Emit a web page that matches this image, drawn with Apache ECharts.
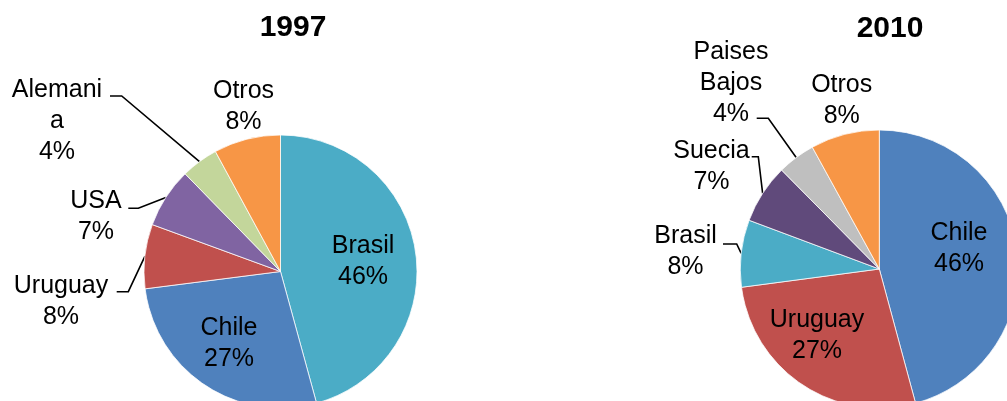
<!DOCTYPE html>
<html>
<head>
<meta charset="utf-8">
<script src="https://cdn.jsdelivr.net/npm/echarts@6/dist/echarts.min.js"></script>
<style>
html,body{margin:0;padding:0;background:#fff;}
#chart{width:1007px;height:401px;}
</style>
</head>
<body>
<div id="chart"></div>
<script>
// ---- data ----
const titles = ['1997', '2010'];
const cats1997 = ['Brasil', 'Chile', 'Uruguay', 'USA', 'Alemania', 'Otros'];
const vals1997 = [45.7, 27.2, 7.6, 7.1, 4.4, 7.9];
const text1997 = ['Brasil', 'Chile', 'Uruguay', 'USA', 'Alemani\na', 'Otros'];
const cats2010 = ['Chile', 'Uruguay', 'Brasil', 'Suecia', 'Paises Bajos', 'Otros'];
const vals2010 = [45.8, 27.1, 7.8, 6.9, 4.4, 8.0];
const text2010 = ['Chile', 'Uruguay', 'Brasil', 'Suecia', 'Paises\nBajos', 'Otros'];

// ---- styles / layout ----
const colorOf = {
  'Brasil': '#4BACC6', 'Chile': '#4F81BD', 'Uruguay': '#C0504D', 'USA': '#8064A2',
  'Alemania': '#C3D69B', 'Otros': '#F79646', 'Suecia': '#604A7B', 'Paises Bajos': '#BFBFBF'
};
const FONT = '"Liberation Sans", Arial, sans-serif';
const labelPos = [
  [[363, 262], [229, 344], [61, 302], [96, 216.5], [57, 121], [243.5, 107]],
  [[959, 248.5], [817, 336], [685.5, 251.5], [711.5, 167], [731, 83], [841.7, 100.5]]
];
const guide = [
  [null, null, [[128.3, 291.7], [116.7, 291.7]], [[138.3, 208.3], [128.3, 208.3]], [[121.7, 96], [110, 96]], null],
  [null, null, [[736.7, 244], [723, 244]], [[758.3, 156.7], [751.7, 156.7]], [[768.3, 118.3], [756.7, 118.3]], null]
];
const insideCount = 2;

function buildData(cats, vals) {
  return cats.map((c, i) => ({
    name: c,
    value: vals[i],
    itemStyle: { color: colorOf[c] },
    label: { position: i < insideCount ? 'inside' : 'outside' },
    labelLine: { show: false }
  }));
}

function makeSeries(idx, cats, vals, texts, center, radius) {
  return {
    type: 'pie',
    center: center,
    radius: radius,
    startAngle: 90,
    clockwise: true,
    avoidLabelOverlap: false,
    silent: true,
    animation: false,
    itemStyle: { borderColor: '#ffffff', borderWidth: 0.75 },
    label: {
      show: true,
      color: '#000',
      fontFamily: FONT,
      fontSize: 25,
      lineHeight: 31,
      align: 'center',
      formatter: p => texts[p.dataIndex] + '\n' + Math.round(p.percent) + '%'
    },
    labelLine: { show: false },
    labelLayout: function (params) {
      const pos = labelPos[idx][params.dataIndex];
      return { x: pos[0], y: pos[1], align: 'center', verticalAlign: 'middle' };
    },
    data: buildData(cats, vals)
  };
}

const chart = echarts.init(document.getElementById('chart'), null, { renderer: 'canvas' });

const series = [
  makeSeries(0, cats1997, vals1997, text1997, [280.5, 271.5], 136.5),
  makeSeries(1, cats2010, vals2010, text2010, [879.3, 269], 139)
];

chart.setOption({
  backgroundColor: '#ffffff',
  animation: false,
  title: [
    { text: titles[0], left: 293, top: 28, padding: 0, textAlign: 'center', textVerticalAlign: 'middle',
      textStyle: { fontFamily: FONT, fontSize: 30, fontWeight: 'bold', color: '#000' } },
    { text: titles[1], left: 890, top: 29, padding: 0, textAlign: 'center', textVerticalAlign: 'middle',
      textStyle: { fontFamily: FONT, fontSize: 30, fontWeight: 'bold', color: '#000' } }
  ],
  series: series
});

// leader lines: start at slice edge on the mid-angle (from the pie's own layout), then elbow, then end
const lines = [];
[0, 1].forEach(si => {
  const data = chart.getModel().getSeriesByIndex(si).getData();
  guide[si].forEach((g, i) => {
    if (!g) return;
    const lay = data.getItemLayout(i);
    const mid = (lay.startAngle + lay.endAngle) / 2;
    const p0 = [lay.cx + lay.r * Math.cos(mid), lay.cy + lay.r * Math.sin(mid)];
    lines.push({
      type: 'polyline',
      silent: true,
      shape: { points: [p0, g[0], g[1]] },
      style: { stroke: '#000', lineWidth: 1.6, fill: null }
    });
  });
});
chart.setOption({ graphic: lines });
</script>
</body>
</html>
